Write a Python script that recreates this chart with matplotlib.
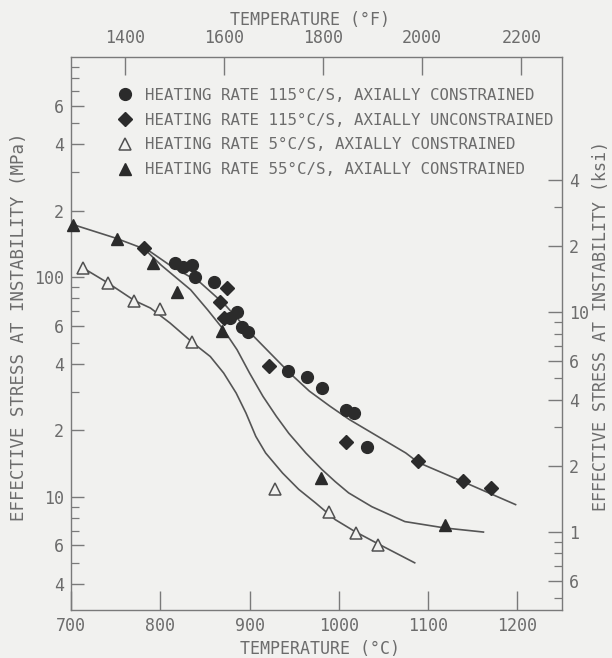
import matplotlib as mpl
import matplotlib.pyplot as plt
from matplotlib.ticker import FixedLocator, FixedFormatter, NullFormatter

mpl.use("Agg")

INK = "#2b2b2b"
GREY = "#6c6c6c"
LINE = "#555555"
BG = "#f1f1ef"
FONT = "DejaVu Sans Mono"

# 115 C/s, axially constrained
circ_T = [817, 826, 836, 839, 860, 878, 886, 892, 898, 943, 964, 981, 1008, 1017, 1032]
circ_S = [116, 111, 113, 100, 95, 65, 69, 59, 56, 37.3, 35.1, 31.3, 24.9, 24.1, 16.9]
# 115 C/s, axially unconstrained
diam_T = [782, 875, 867, 871, 922, 1008, 1089, 1139, 1171]
diam_S = [135, 89, 77, 65, 39.4, 17.8, 14.5, 11.8, 11.0]
# 5 C/s, axially constrained
open_T = [713, 741, 771, 800, 836, 928, 989, 1019, 1044]
open_S = [110, 94, 78, 71.5, 50.6, 10.8, 8.55, 6.86, 6.05]
# 55 C/s, axially constrained
fill_T = [702, 752, 792, 819, 869, 980, 1119]
fill_S = [172, 149, 116, 85.5, 56.8, 12.2, 7.46]

# hand-drawn trend curves
curveA_T = [782, 812, 845, 872, 901, 923, 945, 967, 990, 1012, 1075, 1089, 1139, 1198]
curveA_S = [136, 112, 94, 75, 55.5, 45.0, 36.5, 30.2, 25.8, 22.4, 15.8, 14.3, 11.7, 9.2]
curveB_T = [700, 750, 782, 801, 834, 853, 871, 886, 900, 915, 930, 944, 963, 981, 996,
            1011, 1037, 1074, 1119, 1162]
curveB_S = [174, 150, 134, 113, 87.3, 70.8, 57.4, 46.6, 36.5, 28.6, 23.2, 19.4, 15.8, 13.3,
            11.7, 10.4, 9.0, 7.7, 7.2, 6.9]
curveC_T = [713, 741, 771, 789, 811, 837, 856, 871, 885, 896, 907, 918, 937, 955, 974, 996,
            1018, 1044, 1085]
curveC_S = [110, 94, 78, 72.1, 61.6, 49.9, 43.4, 36.5, 29.6, 24.0, 18.8, 15.8, 12.8, 10.8,
            9.36, 7.86, 6.94, 6.1, 5.0]

labels = [
    "HEATING RATE 115°C/S, AXIALLY CONSTRAINED",
    "HEATING RATE 115°C/S, AXIALLY UNCONSTRAINED",
    "HEATING RATE 5°C/S, AXIALLY CONSTRAINED",
    "HEATING RATE 55°C/S, AXIALLY CONSTRAINED",
]

mpa_major = [4, 6, 10, 20, 40, 60, 100, 200, 400, 600]
mpa_major_lbl = ["4", "6", "10", "2", "4", "6", "100", "2", "4", "6"]
mpa_minor = [5, 7, 8, 9, 30, 50, 70, 80, 90, 300, 500, 700, 800, 900]
ksi_major = [0.6, 1, 2, 4, 6, 10, 20, 40]
ksi_major_lbl = ["6", "1", "2", "4", "6", "10", "2", "4"]
ksi_minor = [0.5, 0.7, 0.8, 0.9, 3, 5, 7, 8, 9, 30]
c_ticks = [700, 800, 900, 1000, 1100, 1200]
f_ticks = [1400, 1600, 1800, 2000, 2200]

plt.rcParams["font.family"] = FONT
fig = plt.figure(figsize=(6.12, 6.58), dpi=100, facecolor=BG)
ax = fig.add_axes([71 / 612, 1 - 610 / 658, 491 / 612, 553 / 658], facecolor=BG)
ax.set_yscale("log")
ax.set_xlim(700, 1250)
ax.set_ylim(3.05, 1000)

for t, s in [(curveA_T, curveA_S), (curveB_T, curveB_S), (curveC_T, curveC_S)]:
    ax.plot(t, s, color=LINE, lw=1.2, zorder=2, solid_joinstyle="round")

h1, = ax.plot(circ_T, circ_S, "o", ms=8.5, color=INK, ls="none", zorder=3)
h2, = ax.plot(diam_T, diam_S, "D", ms=7.5, color=INK, ls="none", zorder=3)
h3, = ax.plot(open_T, open_S, "^", ms=9, mfc=BG, mec="#505050", mew=1.1, ls="none", zorder=3)
h4, = ax.plot(fill_T, fill_S, "^", ms=9, color=INK, ls="none", zorder=3, clip_on=False)

leg = ax.legend([h1, h2, h3, h4], labels, loc="upper left", bbox_to_anchor=(0.094, 0.944),
                frameon=False, borderpad=0, borderaxespad=0, handlelength=1.0,
                handletextpad=0.75, labelspacing=0.62, prop={"family": FONT, "size": 11.3})
for txt in leg.get_texts():
    txt.set_color(GREY)

for sp in ax.spines.values():
    sp.set_color("#7a7a7a")
    sp.set_linewidth(1.0)

# bottom: degrees C
ax.set_xticks(c_ticks)
ax.set_xticklabels([str(v) for v in c_ticks])
ax.tick_params(axis="x", direction="in", length=14, width=1.0, color="#7a7a7a",
               labelsize=12, labelcolor=GREY, pad=5, top=False)
ax.set_xlabel("TEMPERATURE (°C)", fontsize=12, color=GREY)
ax.xaxis.set_label_coords(0.507, -0.054)

# left: MPa
ax.yaxis.set_major_locator(FixedLocator(mpa_major))
ax.yaxis.set_major_formatter(FixedFormatter(mpa_major_lbl))
ax.yaxis.set_minor_locator(FixedLocator(mpa_minor))
ax.yaxis.set_minor_formatter(NullFormatter())
ax.tick_params(axis="y", which="major", direction="in", length=9, width=1.0, color="#7a7a7a",
               labelsize=12, labelcolor=GREY, pad=5, right=False)
ax.tick_params(axis="y", which="minor", direction="in", length=6, width=0.9, color="#7a7a7a",
               right=False)
ax.set_ylabel("EFFECTIVE STRESS AT INSTABILITY (MPa)", fontsize=12.5, color=GREY)
ax.yaxis.set_label_coords(-0.0876, 0.513)

# top: degrees F
top = ax.secondary_xaxis("top", functions=(lambda c: c * 9 / 5 + 32, lambda f: (f - 32) * 5 / 9))
top.set_xticks(f_ticks)
top.set_xticklabels([str(v) for v in f_ticks])
top.tick_params(direction="in", length=13, width=1.0, color="#7a7a7a",
                labelsize=12, labelcolor=GREY, pad=7)
top.spines["top"].set_visible(False)
top.set_xlabel("TEMPERATURE (°F)", fontsize=12, color=GREY)
top.xaxis.set_label_coords(0.487, 1.058, transform=ax.transAxes)

# right: ksi
right = ax.secondary_yaxis("right", functions=(lambda m: m / 6.895, lambda k: k * 6.895))
right.yaxis.set_major_locator(FixedLocator(ksi_major))
right.yaxis.set_major_formatter(FixedFormatter(ksi_major_lbl))
right.yaxis.set_minor_locator(FixedLocator(ksi_minor))
right.yaxis.set_minor_formatter(NullFormatter())
right.tick_params(which="major", direction="in", length=10, width=1.0, color="#7a7a7a",
                  labelsize=12, labelcolor=GREY, pad=5)
right.tick_params(which="minor", direction="in", length=6, width=0.9, color="#7a7a7a")
right.spines["right"].set_visible(False)
right.set_ylabel("EFFECTIVE STRESS AT INSTABILITY (ksi)", fontsize=12, color=GREY)
right.yaxis.set_label_coords(1.062, 0.513, transform=ax.transAxes)

fig.savefig("out.png", dpi=100, facecolor=BG)
